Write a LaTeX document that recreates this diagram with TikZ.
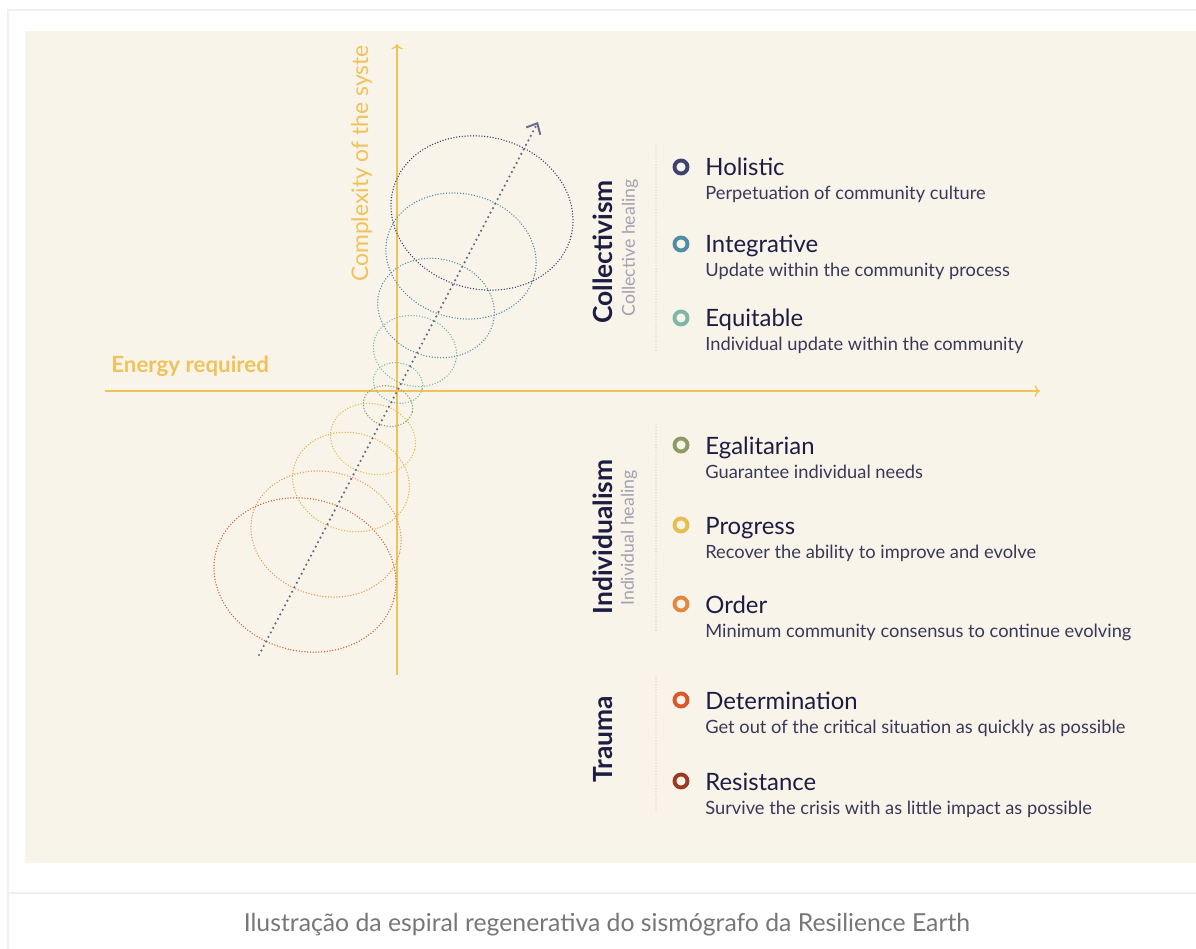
\documentclass[tikz,border=0pt]{standalone}
\usepackage{fontspec}
\setmainfont{Lato}
\usetikzlibrary{arrows.meta}

\definecolor{panel}{HTML}{F8F4EA}
\definecolor{frameline}{HTML}{F0F0F0}
\definecolor{axisc}{HTML}{F0C25A}
\definecolor{ink}{HTML}{1E1C42}
\definecolor{descc}{HTML}{3A3858}
\definecolor{subc}{HTML}{A3A1B0}
\definecolor{spiralc}{HTML}{6E6A86}
\definecolor{captionc}{HTML}{777777}
\definecolor{holc}{HTML}{3F4170}
\definecolor{integc}{HTML}{4F8CA8}
\definecolor{equitc}{HTML}{7DB8A6}
\definecolor{egalc}{HTML}{8F9B66}
\definecolor{progc}{HTML}{E6BE4F}
\definecolor{orderc}{HTML}{E2883F}
\definecolor{detc}{HTML}{D9572B}
\definecolor{resc}{HTML}{9B3A24}

\begin{document}
\begin{tikzpicture}[x=0.02cm, y=-0.02cm,
    axis/.style={draw=axisc, line width=0.7pt},
    loopline/.style={draw=#1, line width=0.85pt, line cap=round, dash pattern=on 0pt off 1.6pt},
    sep/.style={draw=#1, line width=0.7pt, line cap=round, dash pattern=on 0pt off 1.6pt},
    ring/.style={circle, draw=#1, line width=2.2pt, minimum size=0.26cm, inner sep=0pt},
    title/.style={anchor=base west, inner sep=0pt, text=ink, font=\fontsize{13.6}{16}\selectfont},
    descr/.style={anchor=base west, inner sep=0pt, text=descc, font=\fontsize{10.4}{12}\selectfont},
    group/.style={rotate=90, inner sep=0pt, text=ink, font=\bfseries\fontsize{15}{18}\selectfont},
    subgroup/.style={rotate=90, inner sep=0pt, text=subc, font=\fontsize{10.1}{12}\selectfont}]
    \useasboundingbox (0,0) rectangle (1196,949);
    % Frame
    \fill[white] (0,0) rectangle (1196,949);
    \draw[frameline, line width=1.2pt] (1196,10) -- (8,10) -- (8,949);
    \draw[frameline, line width=1.2pt] (8,893) -- (1196,893);
    \fill[panel] (25,31) rectangle (1196,863);

    % Axes
    \coordinate (W) at (105,391);
    \coordinate (E) at (1040,391);
    \coordinate (S) at (397,675);
    \coordinate (N) at (397,44);
    \draw[axis, ->] (W) -- (E);
    \draw[axis, ->] (S) -- (N);
    \node[anchor=base west, inner sep=0pt, text=axisc, font=\bfseries\fontsize{12.7}{15}\selectfont]
        (energy) at (111,372) {Energy required};
    \begin{scope}
      \clip (25,45) rectangle (1196,863);
      \node[rotate=90, anchor=base west, inner sep=0pt, text=axisc, font=\fontsize{13}{15}\selectfont]
          (complexity) at (368,282) {Complexity of the system};
    \end{scope}

    % Spiral
    \draw[loopline=resc!40!orderc, rotate around={-15:(305,575)}] (305,575) ellipse [x radius=92, y radius=76];
    \draw[loopline=orderc!85, rotate around={-15:(326,534)}] (326,534) ellipse [x radius=76, y radius=62];
    \draw[loopline=progc!80!orderc, rotate around={-15:(351,482)}] (351,482) ellipse [x radius=59, y radius=49];
    \draw[loopline=progc, rotate around={-15:(373,439)}] (373,439) ellipse [x radius=43, y radius=35];
    \draw[loopline=egalc, rotate around={-15:(388,406)}] (388,406) ellipse [x radius=25, y radius=20];
    \draw[loopline=equitc, rotate around={-15:(398,383)}] (398,383) ellipse [x radius=25, y radius=20];
    \draw[loopline=equitc, rotate around={-15:(415,351)}] (415,351) ellipse [x radius=42, y radius=35];
    \draw[loopline=integc!80!equitc, rotate around={-15:(436,308)}] (436,308) ellipse [x radius=59, y radius=49];
    \draw[loopline=integc, rotate around={-15:(461,256)}] (461,256) ellipse [x radius=76, y radius=62];
    \draw[loopline=holc, rotate around={-15:(482,213)}] (482,213) ellipse [x radius=92, y radius=76];
    \coordinate (low) at (259,655);
    \coordinate (high) at (538,122);
    \draw[spiralc, line width=1.4pt, line cap=round, dash pattern=on 0pt off 2.9pt,
        -{Straight Barb[length=5pt, width=9pt, line width=1.1pt]}] (low) -- (high);

    % Groups
    \node[group] (coll) at (603,252) {Collectivism};
    \node[subgroup] (collH) at (630,248) {Collective healing};
    \node[group] (indiv) at (603,537) {Individualism};
    \node[subgroup] (indivH) at (629,538) {Individual healing};
    \node[group] (trauma) at (603,739) {Trauma};
    \coordinate (collA) at (656,145);
    \coordinate (collB) at (656,352);
    \coordinate (indivA) at (656,425);
    \coordinate (indivB) at (656,633);
    \coordinate (traumaA) at (656,676);
    \coordinate (traumaB) at (656,812);
    \draw[sep=integc!40] (collA) -- (collB);
    \draw[sep=subc!60!panel] (indivA) -- (indivB);
    \draw[sep=detc!40] (traumaA) -- (traumaB);

    % Nodes
    \node[ring=holc] (holR) at (681,167) {};
    \node[title] (hol) at (705,176) {Holistic};
    \node[descr] (holD) at (705,200) {Perpetuation of community culture};
    \node[ring=integc] (integR) at (681,244) {};
    \node[title] (integ) at (705,253) {Integrative};
    \node[descr] (integD) at (705,277) {Update within the community process};
    \node[ring=equitc] (equitR) at (681,318) {};
    \node[title] (equit) at (705,327) {Equitable};
    \node[descr] (equitD) at (705,351) {Individual update within the community};
    \node[ring=egalc] (egalR) at (681,445) {};
    \node[title] (egal) at (705,454) {Egalitarian};
    \node[descr] (egalD) at (705,478) {Guarantee individual needs};
    \node[ring=progc] (progR) at (681,525) {};
    \node[title] (prog) at (705,534) {Progress};
    \node[descr] (progD) at (705,558) {Recover the ability to improve and evolve};
    \node[ring=orderc] (orderR) at (681,604) {};
    \node[title] (order) at (705,613) {Order};
    \node[descr] (orderD) at (705,637) {Minimum community consensus to continue evolving};
    \node[ring=detc] (detR) at (681,700) {};
    \node[title] (det) at (705,709) {Determination};
    \node[descr] (detD) at (705,733) {Get out of the critical situation as quickly as possible};
    \node[ring=resc] (resR) at (681,781) {};
    \node[title] (res) at (705,790) {Resistance};
    \node[descr] (resD) at (705,814) {Survive the crisis with as little impact as possible};

    % Caption
    \node[text=captionc, font=\fontsize{14.1}{17}\selectfont] (caption) at (607,925)
        {Ilustração da espiral regenerativa do sismógrafo da Resilience Earth};
  \end{tikzpicture}
\end{document}
